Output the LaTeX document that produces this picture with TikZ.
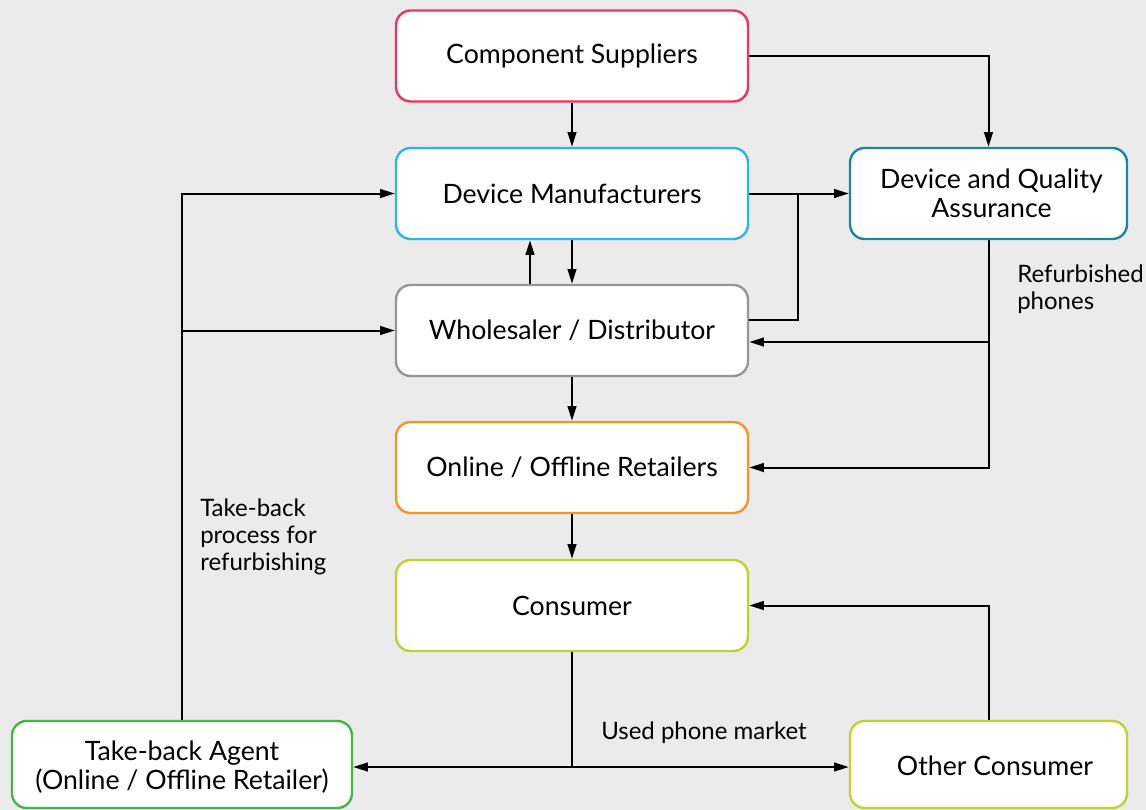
\documentclass[tikz,border=0pt]{standalone}
\usepackage{fontspec}
\setmainfont{Lato}
\usetikzlibrary{arrows.meta}
\definecolor{bg}{RGB}{235,235,235}
\definecolor{ccs}{RGB}{232,54,94}
\definecolor{cdm}{RGB}{41,182,232}
\definecolor{cdqa}{RGB}{24,136,160}
\definecolor{cwd}{RGB}{150,150,150}
\definecolor{crt}{RGB}{245,150,35}
\definecolor{cco}{RGB}{190,210,50}
\definecolor{ctb}{RGB}{70,180,70}
\tikzset{
  box/.style={draw, line width=1.8pt, rounded corners=11pt, fill=white, align=center,
    minimum width=264pt, minimum height=68.25pt, inner sep=0pt,
    font=\fontsize{20}{21.75}\selectfont},
  conn/.style={line width=1.5pt, black},
  arr/.style={conn, -{Triangle[length=11pt,width=6.5pt]}},
  lbl/.style={inner sep=0pt, align=left, font=\fontsize{18}{20.25}\selectfont}
}
\begin{document}
\begin{tikzpicture}[x=0.75pt,y=-0.75pt]
\fill[bg] (0,0) rectangle (1146,810);
\useasboundingbox (0,0) rectangle (1146,810);

\node[box, draw=ccs] (cs) at (572,56) {Component Suppliers};
\node[box, draw=cdm] (dm) at (572,193.5) {Device Manufacturers};
\node[box, draw=cdqa, minimum width=207.75pt] (dqa) at (988.5,193.5) {\hspace{4.5pt}Device and Quality\\\hspace{4.5pt}Assurance};
\node[box, draw=cwd] (wd) at (572,330.5) {Wholesaler / Distributor};
\node[box, draw=crt] (rt) at (572,467.5) {Online / Offline Retailers};
\node[box, draw=cco] (co) at (572,605.5) {Consumer};
\node[box, draw=ctb, minimum width=255pt, minimum height=65.25pt] (tb) at (182,764.5) {\rule{0pt}{19pt}Take-back Agent\\(Online / Offline Retailer)};
\node[box, draw=cco, minimum width=207.75pt, minimum height=65.25pt] (oc) at (988.5,764.5) {\hspace{9.75pt}\rule{0pt}{17pt}Other Consumer};

\node[lbl, anchor=north west] (lref) at (1017,265) {Refurbished\\phones};
\node[lbl, anchor=west] (lused) at (601,733) {Used phone market};
\node[lbl, anchor=north west] (ltake) at (200,499) {Take-back\\process for\\refurbishing};

\coordinate (j1) at (798,193.5);
\coordinate (j2) at (988.5,342);
\coordinate (j3) at (572,767);
\coordinate (j4) at (182,330.5);

\draw[arr] (cs) -- (dm);
\draw[arr] (cs.east) -| (dqa.north);
\draw[arr] (dm.east) -- (dqa.west);
\draw[conn] ([yshift=7.9pt]wd.east) -| (j1);
\draw[arr] (dm) -- (wd);
\draw[arr] ([xshift=-31.5pt]wd.north) -- ([xshift=-31.5pt]dm.south);
\draw[arr] (dqa.south) |- (rt.east);
\draw[arr] (j2) -- (j2 -| wd.east);
\draw[arr] (wd) -- (rt);
\draw[arr] (rt) -- (co);
\draw[conn] (co.south) -- (j3);
\draw[arr] (j3) -- (j3 -| tb.east);
\draw[arr] (j3) -- (j3 -| oc.west);
\draw[arr] (oc.north) |- (co.east);
\draw[arr] (tb.north) |- (dm.west);
\draw[arr] (j4) -- (wd.west);
\end{tikzpicture}
\end{document}
